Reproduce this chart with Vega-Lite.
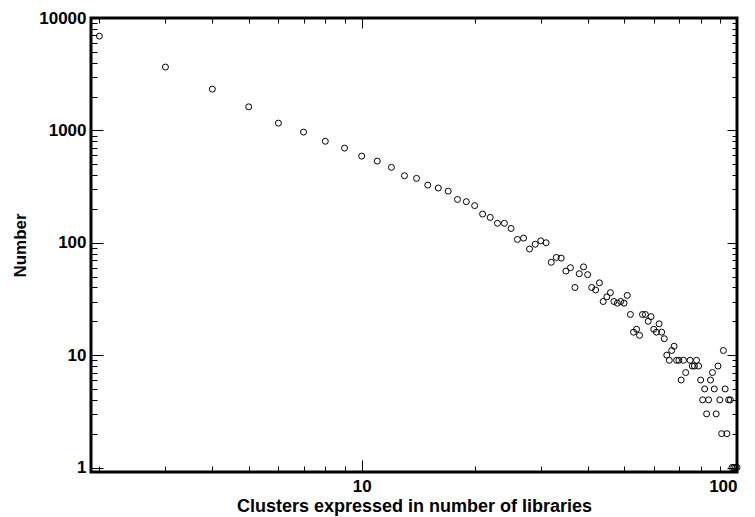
{
  "$schema": "https://vega.github.io/schema/vega-lite/v6.json",
  "width": 646,
  "height": 454,
  "autosize": "none",
  "padding": {"left": 91, "top": 18, "right": 18, "bottom": 45},
  "background": "white",
  "config": {
    "view": {"stroke": "black", "strokeWidth": 3},
    "axis": {
      "domain": false,
      "grid": false,
      "tickColor": "black",
      "tickWidth": 1,
      "labelColor": "black",
      "labelFont": "Liberation Sans",
      "labelFontWeight": "bold",
      "labelFontSize": 17,
      "titleColor": "black",
      "titleFont": "Liberation Sans",
      "titleFontWeight": "bold",
      "titleFontSize": 17
    }
  },
  "data": {
    "values": [
      {"libraries": 2, "number": 6900},
      {"libraries": 3, "number": 3660},
      {"libraries": 4, "number": 2330},
      {"libraries": 5, "number": 1620},
      {"libraries": 6, "number": 1160},
      {"libraries": 7, "number": 965},
      {"libraries": 8, "number": 800},
      {"libraries": 9, "number": 695},
      {"libraries": 10, "number": 590},
      {"libraries": 11, "number": 533},
      {"libraries": 12, "number": 469},
      {"libraries": 13, "number": 395},
      {"libraries": 14, "number": 374},
      {"libraries": 15, "number": 326},
      {"libraries": 16, "number": 307},
      {"libraries": 17, "number": 288},
      {"libraries": 18, "number": 243},
      {"libraries": 19, "number": 232},
      {"libraries": 20, "number": 214},
      {"libraries": 21, "number": 180},
      {"libraries": 22, "number": 168},
      {"libraries": 23, "number": 149},
      {"libraries": 24, "number": 149},
      {"libraries": 25, "number": 134},
      {"libraries": 26, "number": 107},
      {"libraries": 27, "number": 110},
      {"libraries": 28, "number": 88},
      {"libraries": 29, "number": 97},
      {"libraries": 30, "number": 104},
      {"libraries": 31, "number": 100},
      {"libraries": 32, "number": 67},
      {"libraries": 33, "number": 74},
      {"libraries": 34, "number": 73},
      {"libraries": 35, "number": 56},
      {"libraries": 36, "number": 60},
      {"libraries": 37, "number": 40},
      {"libraries": 38, "number": 53},
      {"libraries": 39, "number": 61},
      {"libraries": 40, "number": 52},
      {"libraries": 41, "number": 40},
      {"libraries": 42, "number": 38},
      {"libraries": 43, "number": 44},
      {"libraries": 44, "number": 30},
      {"libraries": 45, "number": 33},
      {"libraries": 46, "number": 36},
      {"libraries": 47, "number": 30},
      {"libraries": 48, "number": 29},
      {"libraries": 49, "number": 30},
      {"libraries": 50, "number": 29},
      {"libraries": 51, "number": 34},
      {"libraries": 52, "number": 23},
      {"libraries": 53, "number": 16},
      {"libraries": 54, "number": 17},
      {"libraries": 55, "number": 15},
      {"libraries": 56, "number": 23},
      {"libraries": 57, "number": 23},
      {"libraries": 58, "number": 20},
      {"libraries": 59, "number": 22},
      {"libraries": 60, "number": 17},
      {"libraries": 61, "number": 16},
      {"libraries": 62, "number": 19},
      {"libraries": 63, "number": 16},
      {"libraries": 64, "number": 14},
      {"libraries": 65, "number": 10},
      {"libraries": 66, "number": 9},
      {"libraries": 67, "number": 11},
      {"libraries": 68, "number": 12},
      {"libraries": 69, "number": 9},
      {"libraries": 70, "number": 9},
      {"libraries": 71, "number": 6},
      {"libraries": 72, "number": 9},
      {"libraries": 73, "number": 7},
      {"libraries": 75, "number": 9},
      {"libraries": 76, "number": 8},
      {"libraries": 77, "number": 8},
      {"libraries": 78, "number": 9},
      {"libraries": 79, "number": 8},
      {"libraries": 80, "number": 6},
      {"libraries": 81, "number": 4},
      {"libraries": 82, "number": 5},
      {"libraries": 83, "number": 3},
      {"libraries": 84, "number": 4},
      {"libraries": 85, "number": 6},
      {"libraries": 86, "number": 7},
      {"libraries": 87, "number": 5},
      {"libraries": 88, "number": 3},
      {"libraries": 89, "number": 8},
      {"libraries": 90, "number": 4},
      {"libraries": 91, "number": 2},
      {"libraries": 92, "number": 11},
      {"libraries": 93, "number": 5},
      {"libraries": 94, "number": 2},
      {"libraries": 95, "number": 4},
      {"libraries": 96, "number": 4},
      {"libraries": 97, "number": 1},
      {"libraries": 98, "number": 1},
      {"libraries": 99, "number": 1},
      {"libraries": 100, "number": 1}
    ]
  },
  "layer": [
    {
      "mark": {"type": "point", "shape": "circle", "filled": false, "stroke": "black", "strokeWidth": 1, "size": 36, "opacity": 1},
      "encoding": {
        "x": {
          "field": "libraries",
          "type": "quantitative",
          "scale": {"type": "log", "domain": [1.9, 100], "nice": false},
          "axis": {
            "orient": "bottom",
            "title": "Clusters expressed in number of libraries",
            "titleFontSize": 18,
            "titlePadding": 3,
            "values": [2, 3, 4, 5, 6, 7, 8, 9, 10, 20, 30, 40, 50, 60, 70, 80, 90, 100],
            "labelExpr": "datum.value == 10 || datum.value == 100 ? format(datum.value, 'd') : ''",
            "labelFlush": true,
            "tickSize": -6,
            "labelPadding": 12
          }
        },
        "y": {
          "field": "number",
          "type": "quantitative",
          "scale": {"type": "log", "domain": [0.912, 10000], "nice": false},
          "axis": {
            "orient": "left",
            "title": "Number",
            "titlePadding": 9,
            "values": [1, 2, 3, 4, 5, 6, 7, 8, 9, 10, 20, 30, 40, 50, 60, 70, 80, 90, 100, 200, 300, 400, 500, 600, 700, 800, 900, 1000, 2000, 3000, 4000, 5000, 6000, 7000, 8000, 9000, 10000],
            "labelExpr": "indexof([1, 10, 100, 1000, 10000], datum.value) >= 0 ? format(datum.value, 'd') : ''",
            "tickSize": -6,
            "labelPadding": 11
          }
        }
      }
    },
    {
      "mark": {"type": "point", "opacity": 0},
      "encoding": {
        "x": {
          "field": "libraries",
          "type": "quantitative",
          "axis": {
            "orient": "top",
            "title": null,
            "labels": false,
            "values": [2, 3, 4, 5, 6, 7, 8, 9, 10, 20, 30, 40, 50, 60, 70, 80, 90, 100],
            "tickSize": -5
          }
        },
        "y": {
          "field": "number",
          "type": "quantitative",
          "axis": {
            "orient": "right",
            "title": null,
            "labels": false,
            "values": [1, 2, 3, 4, 5, 6, 7, 8, 9, 10, 20, 30, 40, 50, 60, 70, 80, 90, 100, 200, 300, 400, 500, 600, 700, 800, 900, 1000, 2000, 3000, 4000, 5000, 6000, 7000, 8000, 9000, 10000],
            "tickSize": -5
          }
        }
      }
    },
    {
      "mark": {"type": "point", "opacity": 0},
      "encoding": {
        "x": {
          "field": "libraries",
          "type": "quantitative",
          "axis": {
            "orient": "bottom",
            "title": null,
            "labels": false,
            "values": [10, 100],
            "tickSize": -12
          }
        },
        "y": {
          "field": "number",
          "type": "quantitative",
          "axis": {
            "orient": "left",
            "title": null,
            "labels": false,
            "values": [1, 10, 100, 1000, 10000],
            "tickSize": -12
          }
        }
      }
    },
    {
      "mark": {"type": "point", "opacity": 0},
      "encoding": {
        "x": {
          "field": "libraries",
          "type": "quantitative",
          "axis": {
            "orient": "top",
            "title": null,
            "labels": false,
            "values": [10, 100],
            "tickSize": -10
          }
        },
        "y": {
          "field": "number",
          "type": "quantitative",
          "axis": {
            "orient": "right",
            "title": null,
            "labels": false,
            "values": [1, 10, 100, 1000, 10000],
            "tickSize": -10
          }
        }
      }
    }
  ],
  "resolve": {"axis": {"x": "independent", "y": "independent"}}
}
